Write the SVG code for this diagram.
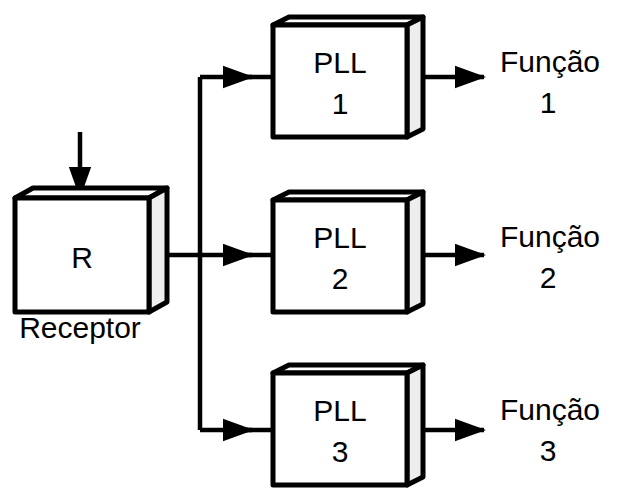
<svg xmlns="http://www.w3.org/2000/svg" width="636" height="492" viewBox="0 0 636 492">
<style>
.f{fill:#fff;stroke:#000;stroke-width:5;stroke-linejoin:round}
.s{fill:#eee;stroke:#000;stroke-width:5;stroke-linejoin:round}
.l{stroke:#000;stroke-width:4.5;fill:none}
text{font-family:"Liberation Sans",Arial,sans-serif;font-size:30px;fill:#000;text-anchor:middle}
</style>
<defs><marker id="a" markerWidth="7" markerHeight="6" refX="6.5" refY="3" orient="auto" markerUnits="strokeWidth"><path d="M0,0.5 L7,3 L0,5.5 Z" fill="#000"/></marker></defs>
<g id="connectors">
<path class="l" d="M80,132 V196" marker-end="url(#a)"/>
<path class="l" d="M167,255 H200 M200,77 V430"/>
<path class="l" d="M200,77 H252" marker-end="url(#a)"/><path class="l" d="M240,77 H273"/>
<path class="l" d="M200,255 H252" marker-end="url(#a)"/><path class="l" d="M240,255 H273"/>
<path class="l" d="M200,430 H252" marker-end="url(#a)"/><path class="l" d="M240,430 H273"/>
<path class="l" d="M423,77 H484" marker-end="url(#a)"/>
<path class="l" d="M423,255 H484" marker-end="url(#a)"/>
<path class="l" d="M423,430 H484" marker-end="url(#a)"/>
</g>
<g id="receptor">
<path class="f" d="M15,198 L33,188 H167 L149,198 Z"/>
<path class="s" d="M149,198 L167,188 V302 L149,312 Z"/>
<rect class="f" x="15" y="198" width="134" height="114"/>
<text x="82" y="268">R</text>
<text x="80" y="338">Receptor</text>
</g>
<g id="pll1">
<path class="f" d="M273,25 L289,17 H423 L407,25 Z"/>
<path class="s" d="M407,25 L423,17 V129 L407,137 Z"/>
<rect class="f" x="273" y="25" width="134" height="112"/>
<text x="340" y="73">PLL</text><text x="340" y="114">1</text>
</g>
<g id="pll2">
<path class="f" d="M273,200 L289,192 H423 L407,200 Z"/>
<path class="s" d="M407,200 L423,192 V304 L407,312 Z"/>
<rect class="f" x="273" y="200" width="134" height="112"/>
<text x="340" y="248">PLL</text><text x="340" y="289">2</text>
</g>
<g id="pll3">
<path class="f" d="M273,373 L289,365 H423 L407,373 Z"/>
<path class="s" d="M407,373 L423,365 V477 L407,485 Z"/>
<rect class="f" x="273" y="373" width="134" height="112"/>
<text x="340" y="421">PLL</text><text x="340" y="462">3</text>
</g>
<g id="out1"><text x="550" y="72">Função</text><text x="548" y="113">1</text></g>
<g id="out2"><text x="550" y="247">Função</text><text x="548" y="288">2</text></g>
<g id="out3"><text x="550" y="420">Função</text><text x="548" y="461">3</text></g>
</svg>
